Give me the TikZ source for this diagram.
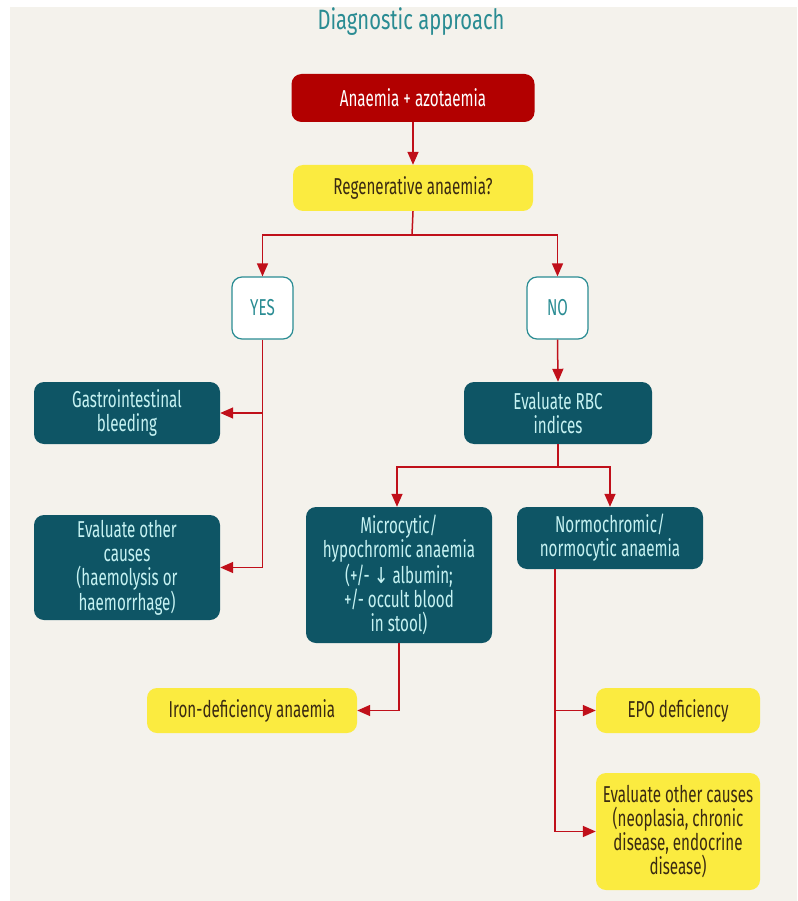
\documentclass[tikz,border=0pt]{standalone}
\usepackage{fontspec}
\setmainfont[FakeStretch=0.66]{Fira Sans}
\newfontfamily\titlefont[FakeStretch=0.72]{Fira Sans}
\newfontfamily\arrowfont[FakeStretch=0.8]{DejaVu Sans}
\usetikzlibrary{arrows.meta,positioning}
\definecolor{bg}{HTML}{F4F2EC}
\definecolor{redbox}{HTML}{B20000}
\definecolor{yelbox}{HTML}{FBEB40}
\definecolor{tealbox}{HTML}{0E5565}
\definecolor{tealtxt}{HTML}{C6F2F2}
\definecolor{titlecol}{HTML}{2A8C93}
\definecolor{linecol}{HTML}{C0101A}
\definecolor{darktxt}{HTML}{3A2A12}
\begin{document}
\begin{tikzpicture}[x=1pt,y=-1pt,
  base/.style={rounded corners=10pt, align=center, inner sep=2pt,
    font=\fontsize{23}{24}\selectfont},
  redstyle/.style={base, fill=redbox, text=white},
  yelstyle/.style={base, fill=yelbox, text=darktxt},
  tealstyle/.style={base, fill=tealbox, text=tealtxt},
  choice/.style={base, fill=white, draw=titlecol, line width=1.2pt, text=titlecol},
  conn/.style={draw=linecol, line width=1.5pt},
  arr/.style={conn, -{Triangle[length=13pt,width=11pt]}, color=linecol}
]
\useasboundingbox (0,0) rectangle (797,901);
\fill[white] (0,0) rectangle (797,901);
\fill[bg] (10,7) rectangle (797,901);

\node[font=\titlefont\fontsize{28}{30}\selectfont, text=titlecol] (title) at (411,22) {Diagnostic approach};

\node[redstyle, minimum width=243pt, minimum height=48pt] (red) at (413,98) {Anaemia + azotaemia};
\node[yelstyle, minimum width=240pt, minimum height=46pt] (reg) at (413,188) {Regenerative anaemia?};

\node[choice, minimum width=61pt, minimum height=62pt] (yes) at (262.5,308) {YES};
\node[choice, minimum width=61pt, minimum height=62pt] (no) at (557.5,308) {NO};

\node[tealstyle, minimum width=186pt, minimum height=62pt] (gi) at (127,413) {Gastrointestinal\\bleeding};
\node[tealstyle, minimum width=186pt, minimum height=105pt] (evo) at (127,567.5) {Evaluate other\\causes\\(haemolysis or\\haemorrhage)};

\node[tealstyle, minimum width=188pt, minimum height=62pt] (rbc) at (558,413) {Evaluate RBC\\indices};
\node[tealstyle, minimum width=186pt, minimum height=136pt] (micro) at (399,575) {Microcytic/\\hypochromic anaemia\\(+/- {\arrowfont\fontsize{22}{24}\selectfont ↓} albumin;\\+/- occult blood\\in stool)};
\node[tealstyle, minimum width=186pt, minimum height=62pt] (normo) at (610,538) {Normochromic/\\normocytic anaemia};

\node[yelstyle, minimum width=210pt, minimum height=45pt] (iron) at (252,710.5) {Iron-deficiency anaemia};
\node[yelstyle, minimum width=164pt, minimum height=45pt] (epo) at (678,710.5) {EPO deficiency};
\node[yelstyle, minimum width=164pt, minimum height=117pt] (evy) at (678,831.5) {Evaluate other causes\\(neoplasia, chronic\\disease, endocrine\\disease)};

% connectors
\draw[arr] (red.south) -- (reg.south |- reg.north);
\coordinate (split1) at (412,235);
\draw[conn] (reg.south) -- (split1);
\draw[arr] (split1) -| (yes.north);
\draw[arr] (split1) -| (no.north);

\coordinate (yj) at (yes.south |- gi.east);
\draw[arr] (yes.south) |- (evo.east);
\draw[arr] (yj) -- (gi.east);

\draw[arr] (no.south) -- (rbc.north);
\coordinate (split2) at (558,467);
\draw[conn] (rbc.south) -- (split2);
\coordinate (mtop) at (397,0);
\coordinate (ntop) at (610,0);
\draw[arr] (split2) -| (mtop |- micro.north);
\draw[arr] (split2) -| (ntop |- normo.north);

\draw[arr] (micro.south) |- (iron.east);

\coordinate (nl) at (555,0);
\coordinate (nstart) at (nl |- normo.south);
\draw[arr] (nstart) |- (evy.west);
\draw[arr] (nstart |- epo.west) -- (epo.west);
\end{tikzpicture}
\end{document}
